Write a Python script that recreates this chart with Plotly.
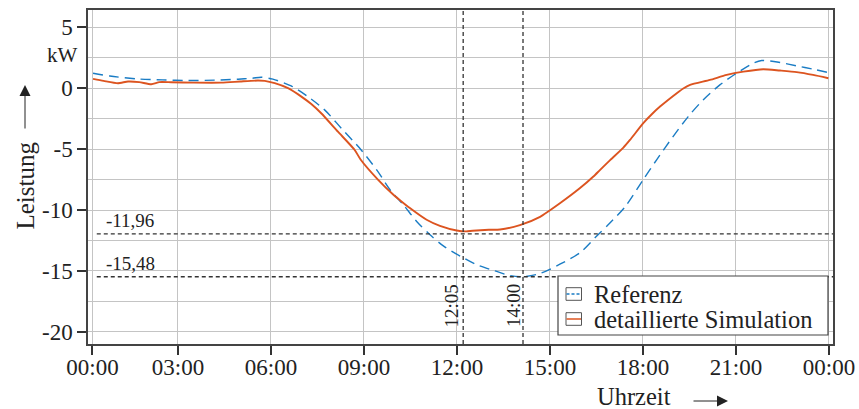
import plotly.graph_objects as go

# ---- data (hours of day, kW) ----
ref_t = [0.26, 0.8, 1.71, 2.5, 3.32, 4.2, 4.94, 5.4, 5.69, 6.06, 6.65, 7.19, 7.73, 8.27, 8.91,
         9.45, 9.84, 10.27, 10.70, 11.13, 11.56, 12.10, 12.64, 13.17, 13.71, 14.13, 14.68,
         15.32, 15.97, 16.5, 16.94, 17.42, 18.01, 18.44, 18.97, 19.46, 19.94, 20.48, 21.02,
         21.56, 21.83, 22.42, 22.96, 23.49, 23.98]
ref_p = [1.23, 1.0, 0.76, 0.68, 0.63, 0.66, 0.74, 0.82, 0.9, 0.74, 0.19, -0.69, -1.78, -3.29, -5.07,
         -6.85, -8.34, -9.57, -10.94, -12.03, -12.95, -13.78, -14.5, -14.95, -15.38, -15.48, -15.21,
         -14.45, -13.5, -12.15, -11.05, -9.74, -7.5, -5.88, -3.97, -2.33, -0.96, 0.27, 1.23,
         2.05, 2.27, 2.11, 1.83, 1.56, 1.28]

sim_t = [0.26, 0.6, 1.06, 1.39, 1.75, 2.14, 2.4, 2.78, 3.5, 4.4, 5.0, 5.58, 5.8, 6.12, 6.55,
         6.98, 7.3, 7.62, 8.16, 8.7, 8.89, 9.45, 9.95, 10.16, 10.48, 11.02, 11.45, 11.99, 12.3,
         12.5, 13.03, 13.39, 14.03, 14.68, 15.32, 15.97, 16.4, 16.61, 16.94, 17.36, 17.58,
         18.01, 18.3, 18.55, 19.09, 19.3, 19.52, 20.16, 20.7, 21.24, 21.88, 22.42, 22.96,
         23.49, 23.98]
sim_p = [0.76, 0.6, 0.41, 0.55, 0.5, 0.33, 0.5, 0.49, 0.46, 0.46, 0.55, 0.63, 0.6, 0.41, 0.0,
         -0.69, -1.3, -2.06, -3.57, -5.07, -5.85, -7.5, -8.75, -9.19, -9.84, -10.8, -11.3, -11.68, -11.75,
         -11.7, -11.62, -11.6, -11.24, -10.56, -9.45, -8.2, -7.25, -6.72, -5.9, -4.9, -4.25,
         -2.87, -2.1, -1.51, -0.41, -0.02, 0.27, 0.68, 1.09, 1.36, 1.56, 1.45, 1.32,
         1.09, 0.82]

x_tickvals = [0.24, 3, 6, 9, 12, 15, 18, 21, 24]
x_ticktext = ["00:00", "03:00", "06:00", "09:00", "12:00", "15:00", "18:00", "21:00", "00:00"]
y_tickvals = [-20, -15, -10, -5, 0, 5]
y_ticktext = ["-20", "-15", "-10", "-5", "0", "5"]

h_levels = [-11.96, -15.48]
h_labels = ["-11,96", "-15,48"]
v_times = [12.2, 14.13]
v_labels = ["12:05", "14:00"]

series_names = ["Referenz", "detaillierte Simulation"]
series_colors = ["#1a7cc4", "#dc5420"]

X_RANGE = [0.097, 24.13]
Y_RANGE = [-21.0, 6.42]

FONT = "Liberation Serif"
INK = "#222222"
GRID = "#c4c4c4"
AXIS = "#444444"

fig = go.Figure()
fig.add_trace(go.Scatter(x=ref_t, y=ref_p, mode="lines", name=series_names[0], showlegend=False,
                         line=dict(color=series_colors[0], width=1.4, dash="10px,6px",
                                   shape="spline", smoothing=0.8)))
fig.add_trace(go.Scatter(x=sim_t, y=sim_p, mode="lines", name=series_names[1], showlegend=False,
                         line=dict(color=series_colors[1], width=1.9, shape="spline", smoothing=0.6)))

for lv, lab in zip(h_levels, h_labels):
    fig.add_shape(type="line", xref="x", yref="y", x0=0.38, x1=X_RANGE[1], y0=lv, y1=lv,
                  line=dict(color="#333333", width=1.3, dash="4px,3px"))
    fig.add_annotation(x=0.61, y=lv, xref="x", yref="y", text=lab, showarrow=False,
                       xanchor="left", yanchor="bottom", yshift=1,
                       font=dict(family=FONT, size=19, color=INK))

for vt, lab, sh in zip(v_times, v_labels, [-11.5, -9.7]):
    fig.add_shape(type="line", xref="x", yref="y domain", x0=vt, x1=vt, y0=0, y1=1,
                  line=dict(color="#333333", width=1.3, dash="4px,3px"))
    fig.add_annotation(x=vt, y=-17.86, xref="x", yref="y", text=lab, showarrow=False,
                       textangle=-90, xanchor="center", yanchor="middle", xshift=sh,
                       font=dict(family=FONT, size=19, color=INK))

def px(xp):
    return (xp - 88) / 745.0

def py(yp):
    return (344 - yp) / 334.0

# legend box (pgfplots style: small framed icons)
fig.add_shape(type="rect", xref="paper", yref="paper", x0=px(558), x1=px(828), y0=py(335), y1=py(276),
              line=dict(color=AXIS, width=1.2), fillcolor="white", layer="above")
row_y = [294, 319]
for i, (nm, col) in enumerate(zip(series_names, series_colors)):
    yc = row_y[i]
    fig.add_shape(type="rect", xref="paper", yref="paper", x0=px(566), x1=px(581.5),
                  y0=py(yc + 6.3), y1=py(yc - 6.3), line=dict(color="#555555", width=1),
                  fillcolor="white", layer="above")
    fig.add_shape(type="line", xref="paper", yref="paper", x0=px(566.5), x1=px(581),
                  y0=py(yc), y1=py(yc),
                  line=dict(color=col, width=1.5 if i else 1.3, dash="solid" if i else "3px,2px"),
                  layer="above")
    fig.add_annotation(x=px(592), y=py(yc), xref="paper", yref="paper", text=nm, showarrow=False,
                       xanchor="left", yanchor="middle", font=dict(family=FONT, size=24.5, color=INK))

# unit and axis titles
fig.add_annotation(x=px(80), y=py(55), xref="paper", yref="paper", text="kW", showarrow=False,
                   xanchor="right", yanchor="middle", font=dict(family=FONT, size=21, color=INK))
fig.add_annotation(x=px(25), y=py(185.5), xref="paper", yref="paper", text="Leistung",
                   showarrow=False, textangle=-90, xanchor="center", yanchor="middle",
                   font=dict(family=FONT, size=25, color=INK))
fig.add_annotation(x=px(25), y=py(85), xref="paper", yref="paper", text="", showarrow=True,
                   ax=0, ay=45, axref="pixel", ayref="pixel", arrowhead=2, arrowsize=2.2,
                   arrowwidth=1.0, arrowcolor=INK, standoff=0)
fig.add_annotation(x=px(634), y=py(396), xref="paper", yref="paper", text="Uhrzeit",
                   showarrow=False, xanchor="center", yanchor="middle",
                   font=dict(family=FONT, size=24.5, color=INK))
fig.add_annotation(x=px(728), y=py(401), xref="paper", yref="paper", text="", showarrow=True,
                   ax=-36, ay=0, axref="pixel", ayref="pixel", arrowhead=2, arrowsize=2.2,
                   arrowwidth=1.0, arrowcolor=INK, standoff=0)

fig.update_layout(
    width=859, height=409,
    margin=dict(l=88, r=26, t=10, b=65, autoexpand=False),
    paper_bgcolor="white", plot_bgcolor="white",
    font=dict(family=FONT, size=23, color=INK),
    showlegend=False,
)
fig.update_xaxes(range=X_RANGE, tickvals=x_tickvals, ticktext=x_ticktext, automargin=False,
                 showgrid=True, gridcolor=GRID, gridwidth=1.2, zeroline=False,
                 showline=True, linecolor=AXIS, linewidth=1.5, mirror=True,
                 ticks="outside", ticklen=9, tickwidth=2, tickcolor="#333333",
                 ticklabelstandoff=-7,
                 tickfont=dict(family=FONT, size=23, color=INK))
fig.update_yaxes(range=Y_RANGE, tickvals=y_tickvals, ticktext=y_ticktext, automargin=False,
                 showgrid=True, gridcolor=GRID, gridwidth=1.2, zeroline=False,
                 minor=dict(tick0=0, dtick=2.5, showgrid=True, gridcolor=GRID, gridwidth=1.2,
                            ticks=""),
                 showline=True, linecolor=AXIS, linewidth=1.5, mirror=True,
                 ticks="outside", ticklen=9, tickwidth=2, tickcolor="#333333",
                 tickfont=dict(family=FONT, size=23, color=INK))

fig.write_html("out.html")
